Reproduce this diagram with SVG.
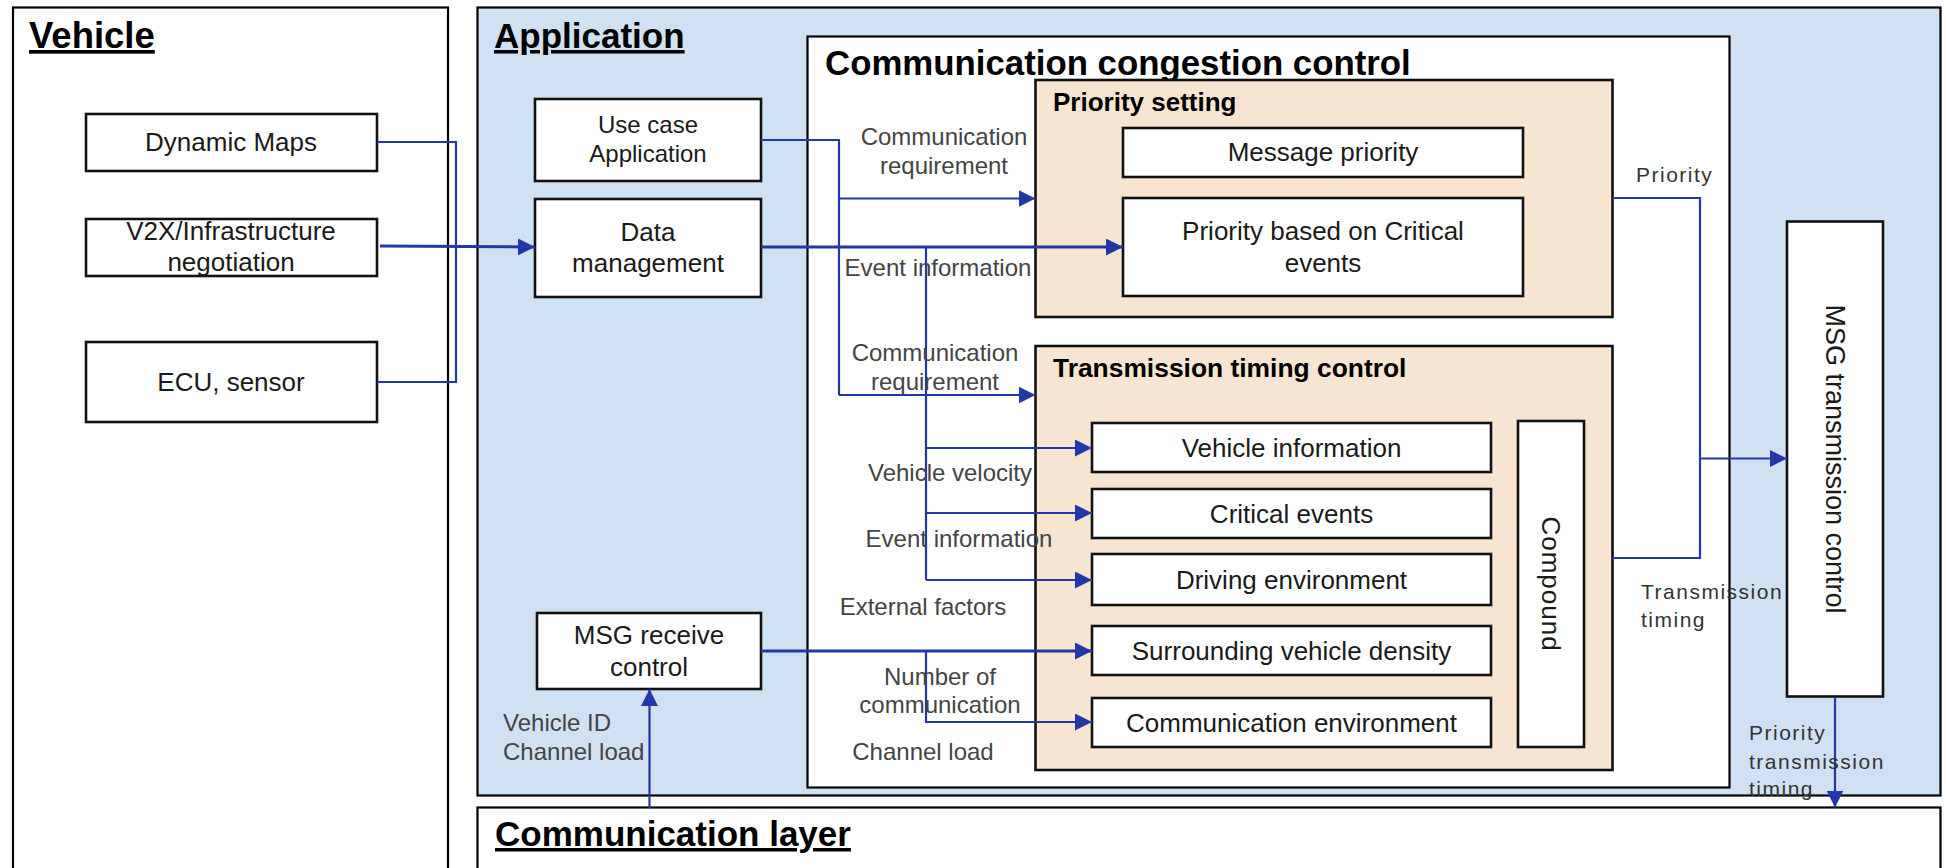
<svg xmlns="http://www.w3.org/2000/svg" width="1946" height="868" viewBox="0 0 1946 868">
<style>
.panel{stroke:#000;stroke-width:2.2}
.box{fill:#fff;stroke:#111;stroke-width:2.6}
.grp{fill:#F8E5D1;stroke:#111;stroke-width:2.6}
.title{font-family:"Liberation Sans",Arial,sans-serif;font-weight:bold;font-size:35px;fill:#000;text-decoration:underline}
.sub{font-family:"Liberation Sans",Arial,sans-serif;font-weight:bold;font-size:26px;fill:#000}
.t{font-family:"Liberation Sans",Arial,sans-serif;font-size:26px;fill:#1a1a1a;text-anchor:middle}
.lab{font-family:"Liberation Sans",Arial,sans-serif;font-size:24px;fill:#444;text-anchor:middle}
.labw{font-family:"Liberation Sans",Arial,sans-serif;font-size:21px;fill:#333;letter-spacing:1.5px}
.c{fill:none;stroke:#2338A8;stroke-width:2.2}
.ca{fill:none;stroke:#2338A8;stroke-width:2.2;marker-end:url(#ah)}
.cb{fill:none;stroke:#2338A8;stroke-width:3;marker-end:url(#ah)}
</style>
<defs>
<marker id="ah" viewBox="0 0 10 10" refX="10" refY="5" markerWidth="17" markerHeight="17" markerUnits="userSpaceOnUse" orient="auto">
<path d="M0,0 L10,5 L0,10 z" fill="#2338A8"/>
</marker>
</defs>
<rect width="1946" height="868" fill="#fff"/>

<g id="vehicle-panel">
<rect class="panel" x="13" y="7.5" width="435" height="880" fill="#fff"/>
<text class="title" x="29" y="48" style="font-size:36.5px">Vehicle</text>
</g>
<g id="application-panel">
<rect class="panel" x="477.5" y="7.5" width="1463" height="788" fill="#D0E1F3"/>
<text class="title" x="494" y="48">Application</text>
</g>
<g id="communication-layer">
<rect class="panel" x="477.5" y="807.5" width="1463" height="80" fill="#fff"/>
<text class="title" x="495" y="846">Communication layer</text>
</g>
<g id="ccc">
<rect class="panel" x="807.5" y="36.5" width="922" height="751" fill="#fff" stroke-width="2.6"/>
<text class="title" x="825" y="75" style="text-decoration:none;font-size:34.8px">Communication congestion control</text>
</g>

<g id="dynamic-maps"><rect class="box" x="86" y="114" width="291" height="57"/><text class="t" x="231" y="151">Dynamic Maps</text></g>
<g id="v2x"><rect class="box" x="86" y="219" width="291" height="57"/><text class="t" x="231" y="240">V2X/Infrastructure</text><text class="t" x="231" y="271">negotiation</text></g>
<g id="ecu"><rect class="box" x="86" y="342" width="291" height="80"/><text class="t" x="231" y="391">ECU, sensor</text></g>

<g id="use-case"><rect class="box" x="535" y="99" width="226" height="82"/><text class="t" x="648" y="133" style="font-size:24px">Use case</text><text class="t" x="648" y="162" style="font-size:24px">Application</text></g>
<g id="data-management"><rect class="box" x="535" y="199" width="226" height="98"/><text class="t" x="648" y="241">Data</text><text class="t" x="648" y="272">management</text></g>
<g id="msg-receive"><rect class="box" x="537" y="613" width="224" height="76"/><text class="t" x="649" y="644">MSG receive</text><text class="t" x="649" y="676">control</text></g>

<g id="priority-setting">
<rect class="grp" x="1035.5" y="80" width="577" height="237"/>
<text class="sub" x="1053" y="111">Priority setting</text>
</g>
<g id="message-priority"><rect class="box" x="1123" y="128" width="400" height="49"/><text class="t" x="1323" y="161">Message priority</text></g>
<g id="priority-critical"><rect class="box" x="1123" y="198" width="400" height="98"/><text class="t" x="1323" y="240">Priority based on Critical</text><text class="t" x="1323" y="272">events</text></g>

<g id="transmission-timing-control">
<rect class="grp" x="1035.5" y="346" width="577" height="424"/>
<text class="sub" x="1053" y="377" style="font-size:26.4px">Transmission timing control</text>
</g>
<g id="vehicle-information"><rect class="box" x="1092" y="423" width="399" height="49"/><text class="t" x="1291.5" y="457">Vehicle information</text></g>
<g id="critical-events"><rect class="box" x="1092" y="489" width="399" height="49"/><text class="t" x="1291.5" y="523">Critical events</text></g>
<g id="driving-environment"><rect class="box" x="1092" y="554" width="399" height="51"/><text class="t" x="1291.5" y="589">Driving environment</text></g>
<g id="surrounding-density"><rect class="box" x="1092" y="626" width="399" height="49"/><text class="t" x="1291.5" y="660">Surrounding vehicle density</text></g>
<g id="communication-environment"><rect class="box" x="1092" y="698" width="399" height="49"/><text class="t" x="1291.5" y="732">Communication environment</text></g>
<g id="compound"><rect class="box" x="1518" y="421" width="66" height="326"/><text class="t" transform="translate(1542,584) rotate(90)" style="letter-spacing:1px">Compound</text></g>

<g id="msg-transmission-control"><rect class="box" x="1787" y="221.5" width="96" height="475"/><text class="t" transform="translate(1826,459) rotate(90)" style="font-size:27px">MSG transmission control</text></g>

<g id="connectors">
<polyline class="c" points="377,142 456,142 456,382 377,382"/>
<path class="cb" d="M380,246 L535,247"/>
<polyline class="c" points="761,140 839,140 839,395"/>
<path class="ca" d="M839,198.5 L1035.5,198.5"/>
<path class="ca" d="M839,395 L1035.5,395"/>
<path class="cb" d="M761,247 L1123,247"/>
<path class="c" d="M926,247 L926,580"/>
<path class="ca" d="M926,448 L1092,448"/>
<path class="ca" d="M926,513 L1092,513"/>
<path class="ca" d="M926,580 L1092,580"/>
<path class="cb" d="M761,651 L1092,651"/>
<polyline class="ca" points="926,651 926,722 1092,722"/>
<polyline class="c" points="1612.5,198 1700,198 1700,558 1612.5,558"/>
<path class="ca" d="M1700,458.5 L1787,458.5"/>
<path class="ca" d="M1835,697 L1835,807.5"/>
<path class="ca" d="M649.5,808 L649.5,689"/>
</g>

<g id="labels">
<text class="lab" x="944" y="145">Communication</text>
<text class="lab" x="944" y="174">requirement</text>
<text class="lab" x="938" y="276">Event information</text>
<text class="lab" x="935" y="361">Communication</text>
<text class="lab" x="935" y="390">requirement</text>
<text class="lab" x="950" y="481">Vehicle velocity</text>
<text class="lab" x="959" y="547">Event information</text>
<text class="lab" x="923" y="615">External factors</text>
<text class="lab" x="940" y="685">Number of</text>
<text class="lab" x="940" y="713">communication</text>
<text class="lab" x="923" y="760">Channel load</text>
<text class="lab" x="503" y="731" style="text-anchor:start">Vehicle ID</text>
<text class="lab" x="503" y="760" style="text-anchor:start">Channel load</text>
<text class="labw" x="1636" y="182">Priority</text>
<text class="labw" x="1641" y="599">Transmission</text>
<text class="labw" x="1641" y="627">timing</text>
<text class="labw" x="1749" y="740">Priority</text>
<text class="labw" x="1749" y="769">transmission</text>
<text class="labw" x="1749" y="796">timing</text>
</g>
</svg>
